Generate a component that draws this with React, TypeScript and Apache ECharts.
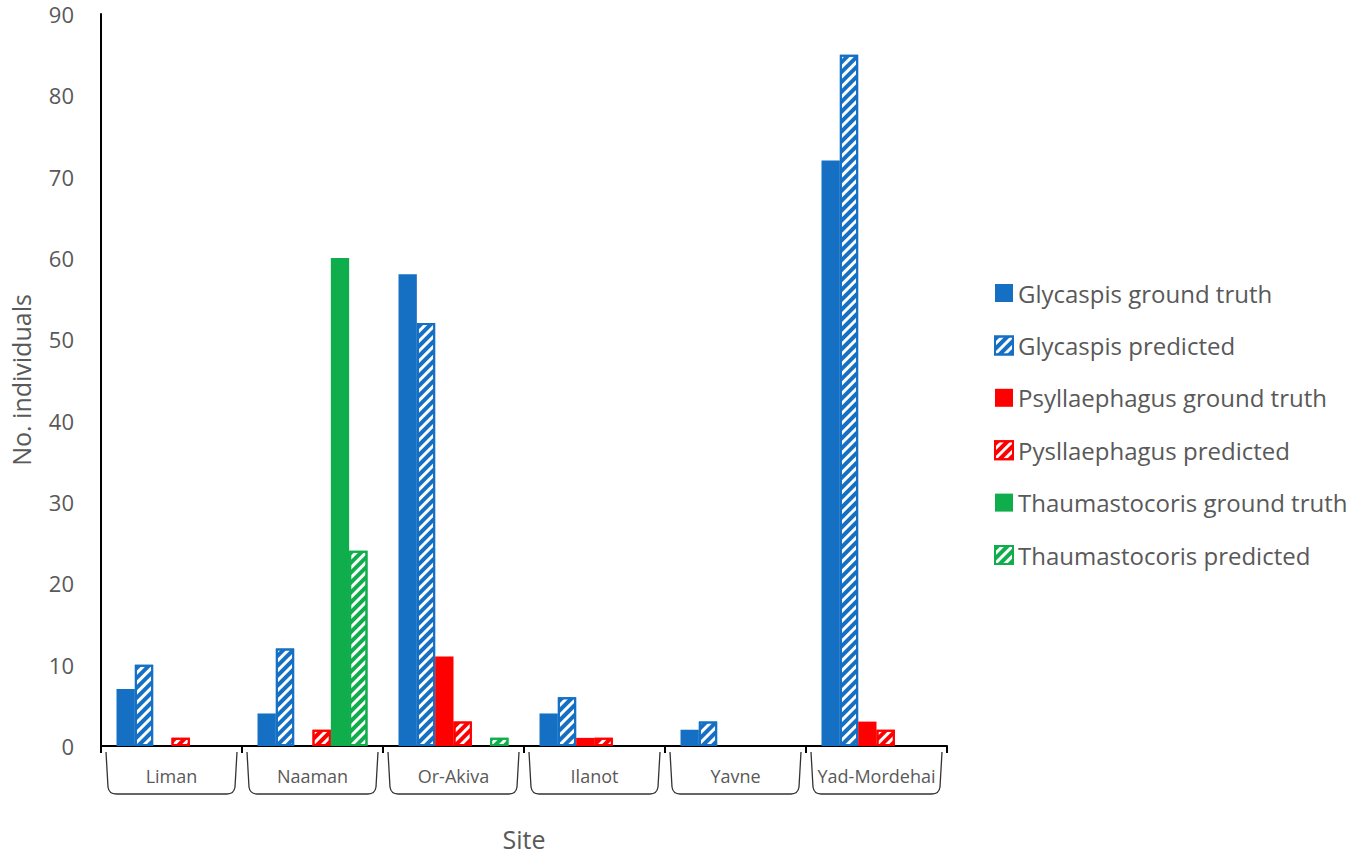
import React, { useEffect, useRef } from "react";
import * as echarts from "echarts";

const sites = ["Liman", "Naaman", "Or-Akiva", "Ilanot", "Yavne", "Yad-Mordehai"];
const glycaspisTruth = [7, 4, 58, 4, 2, 72];
const glycaspisPred = [10, 12, 52, 6, 3, 85];
const psyllTruth = [0, 0, 11, 1, 0, 3];
const psyllPred = [1, 2, 3, 1, 0, 2];
const thaumTruth = [0, 60, 0, 0, 0, 0];
const thaumPred = [0, 24, 1, 0, 0, 0];

const BLUE = "#1570C4";
const RED = "#FF0000";
const GREEN = "#10AD4C";
const TEXT = "#595959";
const FONT = "Open Sans";

function hatch(color: string) {
  return {
    color: "#ffffff",
    borderColor: color,
    borderWidth: 2,
    decal: {
      symbol: "rect",
      symbolSize: 1,
      color: color,
      dashArrayX: [1, 0],
      dashArrayY: [3.5, 3],
      rotation: -Math.PI / 4,
    },
  };
}

const nonZero = (arr: number[]) => arr.map((v) => (v === 0 ? "-" : v));

export default function App() {
  const ref = useRef<HTMLDivElement>(null);
  useEffect(() => {
    if (!ref.current) return;
    const chart = echarts.init(ref.current, undefined, { renderer: "svg" });
    const solid = (name: string, data: number[], color: string) => ({
      name,
      type: "bar",
      data: nonZero(data),
      barGap: "0%",
      barCategoryGap: "22%",
      itemStyle: { color },
    });
    const hatched = (name: string, data: number[], color: string) => ({
      name,
      type: "bar",
      data: nonZero(data),
      barGap: "0%",
      barCategoryGap: "22%",
      itemStyle: hatch(color),
    });
    chart.setOption({
      animation: false,
      aria: { enabled: false },
      textStyle: { fontFamily: FONT },
      grid: { left: 95, right: 408, top: 14, bottom: 106 },
      legend: {
        orient: "vertical",
        left: 989,
        top: 276,
        itemWidth: 18,
        itemHeight: 18,
        itemGap: 28.4,
        icon: "rect",
        textStyle: { fontSize: 24, color: TEXT, fontFamily: FONT },
        data: [
          "Glycaspis ground truth",
          "Glycaspis predicted",
          "Psyllaephagus ground truth",
          "Pysllaephagus predicted",
          "Thaumastocoris ground truth",
          "Thaumastocoris predicted",
        ],
      },
      xAxis: {
        type: "category",
        data: sites,
        name: "Site",
        nameLocation: "middle",
        nameGap: 80,
        nameTextStyle: { fontSize: 25, color: TEXT, fontFamily: FONT },
        axisLine: { lineStyle: { color: "#000", width: 2 } },
        axisTick: { show: true, length: 7, lineStyle: { color: "#000", width: 2 } },
        axisLabel: { interval: 0, fontSize: 18, color: TEXT, margin: 21, fontFamily: FONT },
      },
      yAxis: {
        type: "value",
        min: 0,
        max: 90,
        interval: 10,
        name: "No. individuals",
        nameLocation: "middle",
        nameGap: 68,
        nameTextStyle: { fontSize: 25, color: TEXT, fontFamily: FONT },
        axisLine: { show: true, lineStyle: { color: "#000", width: 2 } },
        axisTick: { show: false },
        splitLine: { show: false },
        axisLabel: { fontSize: 22, lineHeight: 22, color: TEXT, margin: 27, fontFamily: FONT },
      },
      series: [
        solid("Glycaspis ground truth", glycaspisTruth, BLUE),
        hatched("Glycaspis predicted", glycaspisPred, BLUE),
        solid("Psyllaephagus ground truth", psyllTruth, RED),
        hatched("Pysllaephagus predicted", psyllPred, RED),
        solid("Thaumastocoris ground truth", thaumTruth, GREEN),
        hatched("Thaumastocoris predicted", thaumPred, GREEN),
        {
          name: "brackets",
          type: "custom",
          silent: true,
          clip: false,
          data: sites.map((_, i) => [i, 0]),
          encode: { x: 0, y: 1 },
          renderItem: (params: any, api: any) => {
            const p = api.coord([api.value(0), 0]);
            const band = api.size([1, 0])[0];
            const l = p[0] - band / 2 + 5;
            const r = p[0] + band / 2 - 5;
            const y0 = p[1] + 6;
            const y1 = p[1] + 48;
            const d = `M${l},${y0} L${l + 2},${y1 - 7} Q${l + 3},${y1} ${l + 10},${y1} L${r - 10},${y1} Q${r - 3},${y1} ${r - 2},${y1 - 7} L${r},${y0}`;
            return {
              type: "path",
              shape: { pathData: d },
              style: { fill: "none", stroke: "#333", lineWidth: 1.3 },
            };
          },
        },
      ],
    });
    return () => chart.dispose();
  }, []);
  return <div ref={ref} style={{ width: 1355, height: 856, position: "absolute", left: 0, top: 0, background: "#fff" }} />;
}
